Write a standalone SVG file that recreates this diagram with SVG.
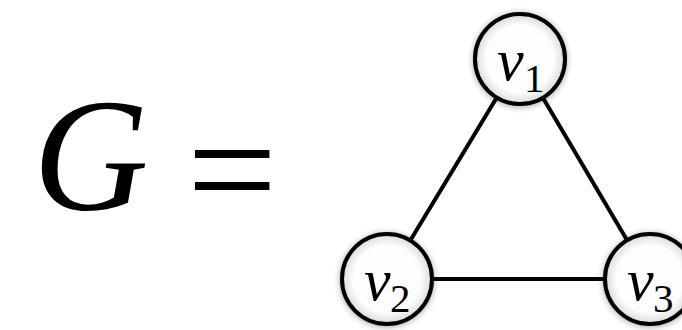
<svg xmlns="http://www.w3.org/2000/svg" width="682" height="330" viewBox="0 0 682 330">
  <defs>
    <radialGradient id="nodeFill" cx="50%" cy="50%" r="50%">
      <stop offset="0" stop-color="#ffffff"/>
      <stop offset="0.75" stop-color="#fdfdfd"/>
      <stop offset="1" stop-color="#dadada"/>
    </radialGradient>
    <filter id="shadow" x="-30%" y="-30%" width="160%" height="160%">
      <feDropShadow dx="0" dy="1" stdDeviation="3" flood-color="#000" flood-opacity="0.35"/>
    </filter>
  </defs>
  <style>
    .node circle { fill: url(#nodeFill); stroke: #000; stroke-width: 4; filter: url(#shadow); }
    .edge { stroke: #000; stroke-width: 4; fill: none; }
    text { font-family: "Liberation Serif", "Times New Roman", serif; fill: #000; }
    .lbl { font-size: 60px; font-style: italic; }
    .sub { font-size: 41px; }
    .big { font-size: 160px; }
  </style>
  <rect width="682" height="330" fill="#ffffff"/>
  <g id="title">
    <text class="big" x="33" y="210" font-style="italic">G</text>
    <text class="big" x="187" y="223" font-size="175">=</text>
  </g>
  <g id="edges">
    <line class="edge" x1="520" y1="59" x2="387" y2="279"/>
    <line class="edge" x1="520" y1="59" x2="650" y2="279"/>
    <line class="edge" x1="387" y1="279" x2="650" y2="279"/>
  </g>
  <g id="v1" class="node">
    <circle cx="520" cy="59" r="45"/>
    <text class="lbl" x="497" y="80">v</text>
    <text class="sub" x="524" y="92">1</text>
  </g>
  <g id="v2" class="node">
    <circle cx="387" cy="279" r="45"/>
    <text class="lbl" x="364" y="300">v</text>
    <text class="sub" x="390" y="312">2</text>
  </g>
  <g id="v3" class="node">
    <circle cx="650" cy="279" r="45"/>
    <text class="lbl" x="627" y="300">v</text>
    <text class="sub" x="653" y="312">3</text>
  </g>
</svg>
